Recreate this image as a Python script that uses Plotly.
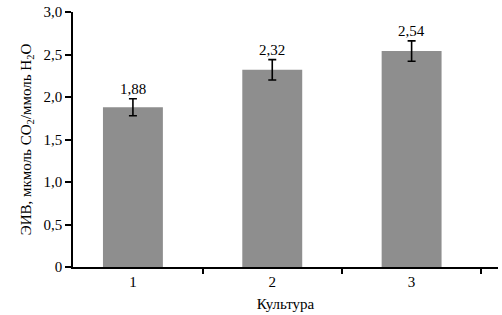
import plotly.graph_objects as go

categories = ["1", "2", "3"]
values = [1.88, 2.32, 2.54]
errors = [0.10, 0.12, 0.12]
value_labels = ["1,88", "2,32", "2,54"]
y_tickvals = [0, 0.5, 1.0, 1.5, 2.0, 2.5, 3.0]
y_ticktext = ["0", "0,5", "1,0", "1,5", "2,0", "2,5", "3,0"]

font_family = "Liberation Serif, Times New Roman, serif"

fig = go.Figure()
fig.add_trace(go.Bar(
    x=categories, y=values,
    marker=dict(color="#8e8e8e", line=dict(width=0)),
    width=0.43,
    error_y=dict(type="data", array=errors, visible=True,
                 color="black", thickness=1.6, width=4),
    showlegend=False,
))

for i, (v, e, t) in enumerate(zip(values, errors, value_labels)):
    fig.add_annotation(x=i, y=v + e, xref="x", yref="y", text=t,
                       showarrow=False, yanchor="bottom", yshift=0,
                       font=dict(family=font_family, size=15, color="black"))

fig.update_layout(
    width=502, height=315,
    margin=dict(l=73, r=4, t=12, b=48, autoexpand=False),
    paper_bgcolor="white", plot_bgcolor="white",
    font=dict(family=font_family, size=15, color="black"),
    xaxis=dict(
        type="category", range=[-0.43, 2.62], automargin=False,
        showline=True, linecolor="black", linewidth=1.6,
        ticks="outside", tickson="boundaries", ticklen=5, tickwidth=1.6,
        tickcolor="black", showgrid=False, zeroline=False,
        tickfont=dict(size=15),
        title=dict(text="Культура", standoff=10, font=dict(size=15)),
    ),
    yaxis=dict(
        range=[0, 3.0], tickvals=y_tickvals, ticktext=y_ticktext,
        automargin=False,
        showline=True, linecolor="black", linewidth=1.6,
        ticks="outside", ticklen=6, tickwidth=1.6, tickcolor="black",
        showgrid=False, zeroline=False,
        tickfont=dict(size=15),
        title=dict(text="ЭИВ, мкмоль CO<sub>2</sub>/ммоль H<sub>2</sub>O",
                   standoff=8, font=dict(size=15)),
    ),
)

fig.write_html("out.html",
               config={"displayModeBar": False},
               post_script="document.body.style.margin='0';document.body.style.overflow='hidden';")
